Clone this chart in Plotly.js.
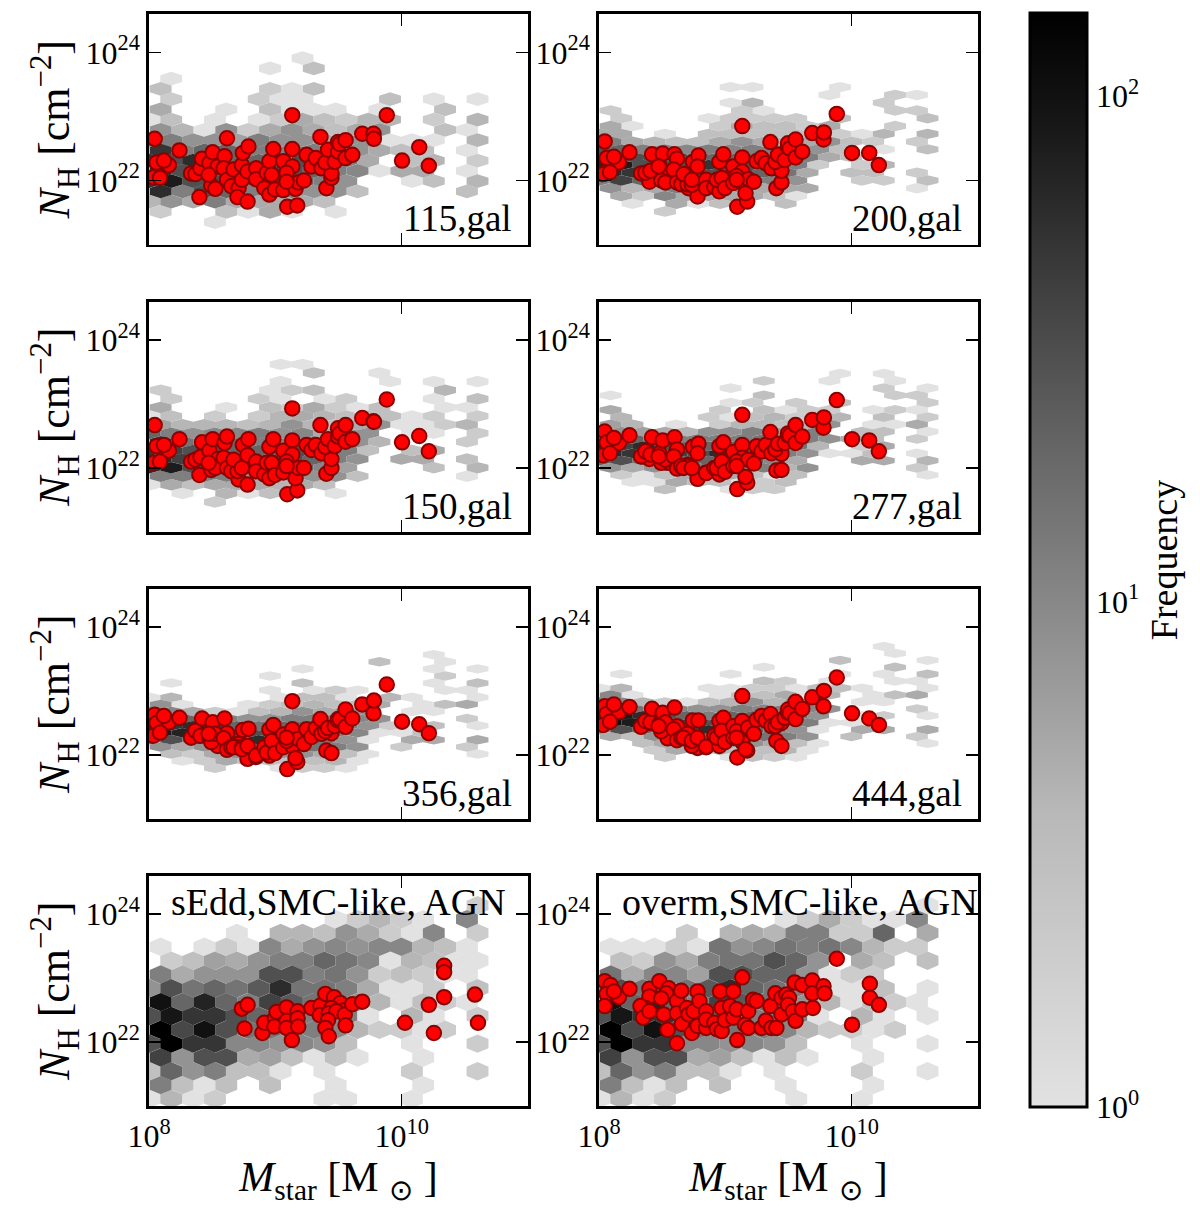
<!DOCTYPE html>
<html><head><meta charset="utf-8">
<script src="https://cdn.plot.ly/plotly-3.0.1.min.js"></script>
<style>html,body{margin:0;padding:0;background:#fff}</style></head>
<body><div id="chart" style="width:1200px;height:1212px"></div>
<script>
// log10 stellar mass of the galaxies shared by the six "gal" panels
const logMstar = [8.045,8.06,8.157,8.118,8.034,8.087,8.241,8.399,8.333,8.367,8.407,8.42,8.478,8.504,8.543,8.598,8.617,8.493,8.525,8.472,8.591,8.617,8.651,8.709,8.70,8.78,8.669,8.735,8.743,8.787,8.735,8.78,8.848,8.848,8.913,8.953,8.932,8.953,8.984,8.971,8.997,9.063,9.063,9.134,9.134,9.089,9.094,9.173,9.16,9.181,9.226,9.089,9.247,9.286,9.32,9.357,9.365,9.404,9.444,9.444,9.396,9.417,9.47,9.496,9.496,9.509,9.556,9.556,9.609,9.688,9.777,9.78,9.882,9.134,10.003,10.139,10.215];
const logNH115 = [22.65,22.28,22.24,22.31,22.05,22.04,22.47,21.74,22.11,22.10,22.19,22.34,22.27,22.44,22.22,22.38,22.66,21.92,21.87,22.09,22.19,22.01,21.91,21.88,21.74,21.67,22.17,22.24,22.43,22.53,22.01,22.14,22.19,22.02,21.88,21.78,22.12,22.30,22.49,22.09,21.86,21.85,22.30,22.49,22.22,22.12,21.59,21.61,21.87,21.97,22.00,21.98,22.40,22.22,22.35,22.68,22.19,21.88,22.04,22.11,22.28,22.48,22.29,22.45,22.60,22.57,22.63,22.35,22.40,22.73,22.73,22.65,23.02,23.02,22.31,22.52,22.23];
const logNH200 = [22.61,22.35,22.28,22.37,22.10,22.13,22.44,21.98,22.11,22.12,22.15,22.41,22.23,22.42,22.09,22.41,22.34,22.00,21.97,22.22,22.17,21.97,21.94,21.88,21.94,21.75,22.10,21.93,22.29,22.39,22.01,22.22,22.01,21.88,21.90,21.83,22.01,22.29,22.41,22.04,21.88,21.96,22.22,22.36,22.14,22.07,21.59,21.67,21.80,22.02,21.98,22.01,22.30,22.35,22.27,22.60,22.19,21.88,21.97,22.15,22.29,22.40,22.32,22.52,22.58,22.50,22.64,22.36,22.45,22.74,22.64,22.75,23.04,22.85,22.43,22.43,22.24];
const logNH150 = [22.67,22.34,22.27,22.36,22.08,22.10,22.45,21.89,22.10,22.13,22.17,22.40,22.27,22.45,22.14,22.39,22.49,21.97,22.00,22.08,22.16,22.00,21.95,21.82,21.95,21.74,22.13,22.00,22.36,22.45,22.00,22.20,22.10,21.95,21.90,21.84,22.08,22.33,22.45,22.08,21.89,21.93,22.27,22.43,22.21,22.10,21.59,21.65,21.84,22.00,22.00,22.03,22.36,22.28,22.36,22.67,22.23,21.91,22.00,22.14,22.33,22.45,22.34,22.49,22.62,22.54,22.67,22.41,22.45,22.78,22.73,22.72,23.07,22.93,22.40,22.50,22.26];
const logNH277 = [22.57,22.40,22.39,22.47,22.20,22.23,22.51,22.14,22.18,22.26,22.21,22.48,22.23,22.43,22.08,22.48,22.29,22.08,22.13,22.18,22.18,21.99,22.03,22.05,22.03,21.83,22.00,22.00,22.33,22.38,22.00,22.23,21.93,21.92,22.00,21.90,22.00,22.34,22.40,22.10,21.94,22.03,22.25,22.36,22.16,22.10,21.67,21.77,21.86,22.13,22.07,22.03,22.34,22.26,22.36,22.56,22.23,21.96,21.97,22.22,22.29,22.38,22.39,22.51,22.54,22.51,22.67,22.39,22.49,22.75,22.63,22.79,23.06,22.83,22.45,22.43,22.26];
const logNH356 = [22.63,22.50,22.51,22.61,22.30,22.35,22.58,22.30,22.27,22.38,22.30,22.57,22.27,22.51,22.14,22.57,22.34,22.20,22.33,22.33,22.26,22.08,22.12,22.17,22.12,21.94,22.12,22.12,22.39,22.41,22.09,22.14,21.97,21.99,22.12,21.99,22.04,22.40,22.47,22.22,22.03,22.32,22.12,22.40,22.14,22.22,21.78,21.89,21.95,22.25,22.17,22.27,22.40,22.28,22.42,22.56,22.33,22.07,22.03,22.34,22.37,22.42,22.45,22.56,22.54,22.56,22.71,22.44,22.57,22.79,22.65,22.85,23.10,22.84,22.52,22.48,22.34];
const logNH444 = [22.76,22.64,22.67,22.79,22.47,22.52,22.75,22.50,22.44,22.53,22.51,22.72,22.48,22.66,22.26,22.74,22.45,22.37,22.51,22.45,22.40,22.23,22.27,22.33,22.33,22.11,22.27,22.14,22.54,22.54,22.22,22.27,22.12,22.13,22.30,22.14,22.27,22.53,22.58,22.38,22.20,22.45,22.27,22.53,22.20,22.37,21.96,22.07,22.09,22.43,22.33,22.27,22.55,22.61,22.54,22.64,22.45,22.22,22.14,22.50,22.45,22.51,22.58,22.66,22.71,22.66,22.83,22.56,22.72,22.90,22.76,23.00,23.21,22.92,22.65,22.57,22.47];
const logMstarSEdd = [8.735,8.78,8.756,8.898,8.913,8.997,9.01,8.992,9.089,9.089,9.089,9.176,9.176,9.181,9.131,9.286,9.357,9.352,9.396,9.465,9.514,9.535,9.444,9.423,9.483,9.417,9.396,9.423,9.549,9.556,9.609,9.688,10.026,10.215,10.255,10.336,10.336,10.336,10.58,10.604];
const logNHSEdd = [22.52,22.58,22.21,22.14,22.30,22.37,22.47,22.24,22.54,22.33,22.22,22.48,22.37,22.24,22.03,22.53,22.57,22.42,22.75,22.70,22.61,22.49,22.53,22.45,22.48,22.34,22.22,22.09,22.43,22.26,22.59,22.63,22.30,22.58,22.14,23.19,23.09,22.70,22.74,22.30];
const logMstarOverm = [8.045,8.092,8.06,8.157,8.118,8.045,8.241,8.399,8.478,8.551,8.533,8.399,8.493,8.367,8.328,8.349,8.399,8.512,8.543,8.617,8.617,8.651,8.617,8.656,8.696,8.735,8.709,8.748,8.78,8.795,8.78,8.848,8.848,8.848,8.913,8.958,8.971,8.932,8.971,8.997,9.063,9.037,9.063,9.089,9.134,9.094,9.155,9.181,9.181,9.22,9.247,9.286,9.32,9.357,9.365,9.404,9.396,9.444,9.444,9.483,9.504,9.496,9.535,9.556,9.549,9.609,9.688,9.688,9.609,9.693,9.777,9.785,9.882,10.144,10.144,10.215,10.003];
const logNHOverm = [22.95,22.89,22.75,22.70,22.79,22.56,22.83,22.83,22.95,22.84,22.76,22.71,22.68,22.53,22.56,22.38,22.48,22.43,22.19,21.98,22.64,22.80,22.45,22.28,22.53,22.14,22.43,22.48,22.79,22.64,22.25,22.48,22.22,22.35,22.30,22.79,22.53,22.20,22.17,22.34,22.79,22.56,22.38,22.51,23.01,22.03,22.27,22.48,22.22,22.66,22.64,22.22,22.33,22.56,22.22,22.22,22.76,22.69,22.43,22.74,22.69,22.58,22.48,22.33,22.93,22.89,22.96,22.76,22.51,22.53,22.87,22.76,23.30,22.91,22.69,22.58,22.27];

// hexbin counts: one list per lattice row from the top
const hex115 = [
[0,0,0,0,0,0,0,1],
[0,0,0,0,0,1,0,3],
[0,1],
[3,0,0,0,0,2,1,3],
[0,2,0,0,0,2,1,1,0,0,0,3,0,1,0,1],
[5,0,0,1,0,3,1,1,1,0,1,0,0,3],
[1,3,0,1,0,1,2,5,3,2,4,4,0,2,0,4],
[8,4,1,8,2,5,8,5,3,5,8,0,0,3,1],
[12,12,8,8,6,12,8,8,5,8,8,1,1,1,0,4],
[50,12,20,20,12,12,12,12,10,8,5,3,3,0,1],
[50,30,60,30,20,20,20,30,20,12,5,0,3,4,0,2],
[60,30,30,30,30,40,30,20,12,10,1,5,5,0,1],
[50,80,30,30,30,30,40,20,12,8,0,0,1,3,0,4],
[60,12,30,20,12,12,12,8,8,3,0,0,0,0,3],
[4,8,5,12,5,5,5,5,3],
[2,0,0,3,1,5,1,0,1],
[0,0,0,1]];
const hex200 = [
[0,0,0,0,0,0,1,1,0,0,0,1],
[0,0,0,0,0,0,0,0,0,0,1,0,0,2,1],
[0,0,0,0,0,0,1,4,0,0,0,0,0,2],
[2,0,0,0,0,0,2,1,0,0,0,0,0,2,2],
[0,2,0,0,0,1,2,2,2,2,0,3,0,0,0,3],
[5,1,0,0,0,2,5,3,3,2,5,0,0,2],
[5,5,0,1,0,3,3,3,3,3,5,2,1,4,0,4],
[12,5,4,3,3,5,8,5,4,5,8,3,2,0,2],
[30,20,12,12,10,12,10,12,12,8,8,3,0,1,0,3],
[60,30,30,30,20,20,20,20,20,12,5,3],
[70,80,30,30,30,50,30,30,20,12,2,0,2,4],
[60,50,40,40,30,30,30,20,15,5,0,3,3,0,2],
[12,40,20,20,20,20,20,12,12,8,0,0,2,2,0,3],
[8,4,5,12,8,8,8,5,5,5,0,0,0,0,1],
[0,5,2,10,5,5,5,5,3,1],
[0,1,0,5,1,3,0,0,3],
[0,0,0,2]];
const hex150 = [
[0,0,0,0,0,0,1,1],
[0,0,0,0,0,0,0,3,0,0,1],
[0,0,0,0,0,0,1,0,0,0,0,1,0,1,0,1],
[2,0,0,0,0,1,2,3,0,0,0,0,0,4],
[0,2,0,0,0,2,1,0,1,2,0,0,0,1,0,3],
[5,0,0,1,0,3,2,5,2,1,3,0,0,1,1],
[1,3,0,2,0,2,4,5,4,3,3,3,1,2,0,2],
[6,4,4,4,3,4,8,4,3,5,8,1,1,2,4],
[20,12,8,10,10,12,8,10,5,8,8,0,1,1,0,2],
[50,15,20,20,12,12,12,12,10,8,4,0,0,0,2],
[50,40,30,30,20,20,20,30,20,12,3,0,3,5],
[60,40,30,30,30,40,30,20,12,8,0,5,5,0,3],
[60,80,30,25,30,30,30,20,10,6,0,0,0,3,0,4],
[12,12,12,12,8,8,8,8,8,3,0,0,0,0,1],
[1,5,3,5,5,5,4,5,3],
[0,1,0,4,1,3,0,0,1],
[0,0,0,2]];
const hex277 = [
[0,0,0,0,0,0,0,0,0,0,0,1,0,1],
[0,0,0,0,0,0,0,2,0,0,1,0,0,1],
[0,0,0,0,0,0,1,0,0,0,0,0,0,2,0,1],
[1,0,0,0,0,0,0,3,0,0,0,0,0,2,2],
[0,0,0,0,0,0,1,2,0,2,0,3,0,0,0,2],
[5,0,0,0,0,2,0,3,1,2,2,0,1,2,1],
[0,4,0,0,0,2,1,3,4,2,4,4,0,3,0,2],
[6,4,0,1,0,2,4,4,3,4,8,0,1,1,5],
[12,8,6,5,4,8,8,12,6,8,12,0,3,3,0,1],
[30,20,15,12,12,12,12,15,10,12,8,5,3,0,2],
[80,40,60,30,20,20,20,20,20,15,4,0,2,5],
[60,50,40,40,30,60,30,20,12,8,1,1,3,0,1],
[20,30,15,15,25,20,20,20,10,5,0,0,5,5,0,4],
[8,5,8,12,12,12,12,12,4,8,0,0,0,0,2],
[0,2,1,3,5,5,5,3,1,3,0,0,0,0,0,1],
[0,1,1,5,3,3,1,2,3],
[0,0,0,3,0,0,1,2,2]];
const hex356 = [
[0,0,0,0,0,0,0,0,0,0,0,0,0,1],
[0,0,0,0,0,0,0,0,0,0,3,0,0,1],
[0,0,0,0,0,0,0,1,0,0,0,0,0,1,0,1],
[0,0,0,0,0,1,0,0,0,0,0,0,0,2],
[0,1,0,0,0,0,0,3,0,0,0,0,0,1,0,3],
[0,0,0,0,0,1,0,1,2,1,0,0,0,1,1],
[1,4,0,0,0,0,1,3,3,1,0,4,1,0,0,1],
[8,1,0,0,1,2,3,4,3,3,5,0,1,3,5],
[8,10,5,2,1,3,4,8,5,8,8,0,1,1],
[30,20,20,12,8,8,12,12,12,10,8,0,0,0,2],
[60,50,60,40,20,15,20,20,15,12,8,2,1,3,0,1],
[80,70,50,40,30,30,30,25,12,10,1,1,3],
[12,30,12,20,40,60,30,20,15,8,1,0,5,5,0,5],
[8,5,8,12,15,12,12,15,12,8,0,2,0,0,2],
[0,3,2,5,8,8,8,8,5,3,1,0,0,0,0,1],
[0,1,2,5,3,3,3,3,4,1],
[0,0,0,2,0,0,1,2,2,1]];
const hex444 = [
[0,0,0,0,0,0,0,0,0,0,0,0,0,1],
[0,0,0,0,0,0,0,0,0,0,0,0,0,1],
[0,0,0,0,0,0,0,0,0,0,0,3,0,0,0,1],
[0,0,0,0,0,0,0,1,0,0,0,0,0,3],
[0,1,0,0,0,0,1,0,0,0,0,1,0,1,0,3],
[0,0,0,0,0,0,0,3,2,0,1,0,0,1,1],
[1,4,0,0,0,1,1,2,2,1,3,3,1,0,0,1],
[10,1,0,0,0,1,3,3,5,1,4,0,1,3,5],
[10,10,4,2,1,3,4,8,4,8,8,0,1,1],
[30,15,12,10,8,8,12,10,12,10,8,0,0,0,2],
[60,80,60,30,20,12,20,20,20,15,8,0,1,2,0,1],
[100,80,50,40,30,30,30,25,12,12,1,1],
[8,30,20,20,40,60,30,20,15,8,1,0,5,5,0,5],
[5,3,8,12,15,15,12,15,12,8,0,3,0,0,2],
[0,0,3,5,8,8,8,8,5,3,1,0,0,0,0,1],
[0,0,2,5,4,4,3,3,4,1],
[0,0,0,2,0,0,1,3,2,1]];
const hexSEdd = [
[0,0,0,0,0,0,0,0,0,0,0,0,0,0,0,2],
[0,0,0,0,0,0,0,0,1,2,4,2,1,0,10],
[0,0,0,0,1,0,4,4,3,8,5,2,1,10,0,2],
[1,0,1,2,1,10,5,8,10,8,10,10,4,3,1],
[0,2,3,6,5,8,12,12,20,15,10,1,4,3,1,1],
[12,5,8,8,8,30,30,12,15,8,2,3,2,1,1],
[8,30,15,20,15,25,60,15,15,12,5,1,1,2,0,3],
[100,20,70,20,12,40,25,15,15,8,4,1,3,2,1],
[30,90,50,50,30,20,15,12,12,12,1,0,4,1,0,2],
[146,35,100,30,15,15,15,12,10,4,2,2,1,2],
[30,146,50,50,10,10,8,10,8,3,0,0,1,0,0,2],
[40,8,30,30,5,6,3,1,3,1,0,0,1],
[3,20,8,12,3,3,1,0,1,0,0,0,2,0,0,2],
[12,3,1,3,0,3,0,0,1,0,0,0,1],
[1,4,1,2,0,0,0,0,1,1,0,0,1]];
const hexOverm = [
[0,0,0,0,0,0,0,0,0,0,0,0,0,0,0,1],
[0,0,0,0,0,0,0,0,1,2,5,2,1,1,10],
[0,0,0,0,2,0,4,5,4,12,12,2,2,20,0,5],
[1,1,1,2,1,15,8,10,15,12,15,10,4,2,2],
[0,3,2,8,5,12,15,15,30,20,8,0,5,3,0,3],
[15,5,10,10,6,30,30,20,20,8,1,2,2],
[8,30,15,25,15,25,60,20,15,12,3,1,1,3,0,1],
[100,20,70,20,12,40,25,15,15,8,4,1,3,2,1],
[30,90,50,50,30,20,15,12,12,12,1,0,4,1,0,1],
[146,35,100,30,15,15,15,12,10,4,2,2,1,2],
[30,146,50,50,10,10,8,10,8,3,0,0,1,0,0,1],
[40,8,30,30,5,6,3,1,3,1,0,0,1],
[3,20,8,12,3,3,1,0,1,0,0,0,2,0,0,1],
[12,3,1,3,0,3,0,0,1,0,0,0,1],
[1,4,1,2,0,0,0,0,0,1,0,0,1]];

const panelLabels = ['115,gal','200,gal','150,gal','277,gal','356,gal','444,gal','sEdd,SMC-like, AGN','overm,SMC-like, AGN'];
const xTickVals = [1e8,1e10], xTickText = ['10<sup>8</sup>','10<sup>10</sup>'];
const yTickVals = [1e22,1e24], yTickText = ['10<sup>22</sup>','10<sup>24</sup>'];
const cbTickVals = [1,10,100], cbTickText = ['10<sup>0</sup>','10<sup>1</sup>','10<sup>2</sup>'];
const cbMinorVals = [2,3,4,5,6,7,8,9,20,30,40,50,60,70,80,90];

// lattice of each hexbin (log10 units)
const latticeRowTop =  [23.912,23.457,23.618,23.473,23.566,23.695,24.134,24.134];
const latticeRowStep = [0.1602,0.1214,0.1344,0.1131,0.1108,0.1082,0.2160,0.2160];
const latticeColStep = 0.1732, latticeEdgeX = 8.0026, latticeInnerX = 8.0919;

const W=1200,H=1212, FONT='"Liberation Serif", serif';
const colLeft=[149,599], colW=379, rowTop=[14,301.5,588.5,875.5], rowH=230.5;
const greyStops=[[0,'#e2e2e2'],[0.27,'#b8b8b8'],[0.46,'#888888'],[0.6,'#666666'],[0.73,'#444444'],[0.91,'#141414'],[1,'#000000']];
const logMax=2.164;
function grey(c){
  const f=Math.min(1,Math.log10(c)/logMax);
  for(let i=1;i<greyStops.length;i++){
    if(f<=greyStops[i][0]){
      const [a,ca]=greyStops[i-1],[b,cb]=greyStops[i];
      const va=parseInt(ca.slice(1,3),16),vb=parseInt(cb.slice(1,3),16);
      const v=Math.round(va+(vb-va)*(f-a)/(b-a));
      return `rgb(${v},${v},${v})`;
    }
  }
  return '#000';
}
const hexes=[hex115,hex200,hex150,hex277,hex356,hex444,hexSEdd,hexOverm];
const ptsX=[logMstar,logMstar,logMstar,logMstar,logMstar,logMstar,logMstarSEdd,logMstarOverm];
const ptsY=[logNH115,logNH200,logNH150,logNH277,logNH356,logNH444,logNHSEdd,logNHOverm];

const traces=[],layout={width:W,height:H,margin:{l:0,r:0,t:0,b:0},paper_bgcolor:'#fff',plot_bgcolor:'#fff',showlegend:false,font:{family:FONT,color:'#000'},annotations:[]};
hexes.forEach((m,k)=>{
  const n=k+1, row=Math.floor(k/2), col=k%2, sx=n===1?'':n, xa='x'+sx, ya='y'+sx;
  const hw=latticeColStep/2, step=latticeRowStep[k];
  const buckets={};
  m.forEach((rowVals,r)=>{
    const yc=latticeRowTop[k]-r*step, x0=(r%2===0)?latticeEdgeX:latticeInnerX;
    rowVals.forEach((c,i)=>{
      if(!c) return;
      const xc=x0+i*latticeColStep;
      const b=buckets[c]||(buckets[c]={x:[],y:[]});
      [[hw,-step/3],[hw,step/3],[0,2*step/3],[-hw,step/3],[-hw,-step/3],[0,-2*step/3],[hw,-step/3]].forEach(d=>{
        b.x.push(10**(xc+d[0])); b.y.push(10**(yc+d[1]));
      });
      b.x.push(null); b.y.push(null);
    });
  });
  Object.keys(buckets).forEach(c=>{
    traces.push({type:'scatter',mode:'lines',x:buckets[c].x,y:buckets[c].y,xaxis:xa,yaxis:ya,fill:'toself',fillcolor:grey(+c),line:{width:0,color:grey(+c)},hoverinfo:'skip',connectgaps:false});
  });
  traces.push({type:'scatter',mode:'markers',x:ptsX[k].map(v=>10**v),y:ptsY[k].map(v=>10**v),xaxis:xa,yaxis:ya,
    marker:{color:'#ff0000',size:14.5,line:{color:'#8b0000',width:2}},cliponaxis:true});
  const L=colLeft[col],T=rowTop[row];
  const axisBase={showgrid:false,zeroline:false,showline:true,mirror:'ticks',linecolor:'#000',linewidth:2.6,ticks:'inside',ticklen:12,tickwidth:1.6,tickcolor:'#000',tickfont:{family:FONT,size:32,color:'#000'}};
  layout['xaxis'+sx]=Object.assign({},axisBase,{type:'log',range:[8,11],domain:[L/W,(L+colW)/W],anchor:ya,tickmode:'array',tickvals:xTickVals,ticktext:xTickText,showticklabels:row===3,
    title:row===3?{text:'<i>M</i><sub>star</sub> [M <sub>⊙</sub> ]',font:{family:FONT,size:42},standoff:7}:undefined});
  layout['yaxis'+sx]=Object.assign({},axisBase,{type:'log',range:[21,24.6],domain:[1-(T+rowH)/H,1-T/H],anchor:xa,tickmode:'array',tickvals:yTickVals,ticktext:yTickText,
    title:col===0?{text:'<i>N</i><sub>H</sub> [cm<sup>−2</sup>]',font:{family:FONT,size:44},standoff:2}:undefined});
  if(k<6){
    layout.annotations.push({xref:'paper',yref:'paper',x:(L+365)/W,y:1-(T+219)/H,xanchor:'right',yanchor:'bottom',yshift:-8,text:panelLabels[k],showarrow:false,font:{family:FONT,size:37,color:'#000'}});
  }else{
    layout.annotations.push({xref:'paper',yref:'paper',x:(k===6?339:800)/W,y:1-(T+26)/H,xanchor:'center',yanchor:'middle',text:panelLabels[k],showarrow:false,font:{family:FONT,size:38,color:'#000'}});
  }
});
// colour scale: gradient from the real colorbar, ticks from a log axis laid over it
traces.push({type:'scatter',mode:'markers',x:[-5],y:[1],xaxis:'x9',yaxis:'y9',hoverinfo:'skip',
  marker:{size:1,color:[0],cmin:0,cmax:logMax,colorscale:greyStops,showscale:true,
    colorbar:{x:1030/W,xanchor:'left',y:1-13/H,yanchor:'top',len:1094/H,lenmode:'fraction',thickness:57,thicknessmode:'pixels',xpad:0,ypad:0,outlinewidth:3,outlinecolor:'#000',ticks:'',showticklabels:false}}});
layout.xaxis9={domain:[1030/W,1087/W],range:[0,1],anchor:'y9',visible:false,fixedrange:true};
layout.yaxis9={domain:[1-1107/H,1-13/H],type:'log',range:[0,logMax],anchor:'x9',side:'right',showgrid:false,zeroline:false,showline:false,
  ticks:'inside',ticklen:12,tickwidth:1.3,tickcolor:'#000',tickmode:'array',tickvals:cbTickVals,ticktext:cbTickText,ticklabelstandoff:8,tickfont:{family:FONT,size:32,color:'#000'},
  minor:{ticks:'inside',ticklen:6,tickwidth:1.2,tickcolor:'#000',tickmode:'array',tickvals:cbMinorVals,showgrid:false},
  title:{text:'Frequency',font:{family:FONT,size:38},standoff:12}};
Plotly.newPlot('chart',traces,layout,{displayModeBar:false,staticPlot:true});
</script></body></html>
